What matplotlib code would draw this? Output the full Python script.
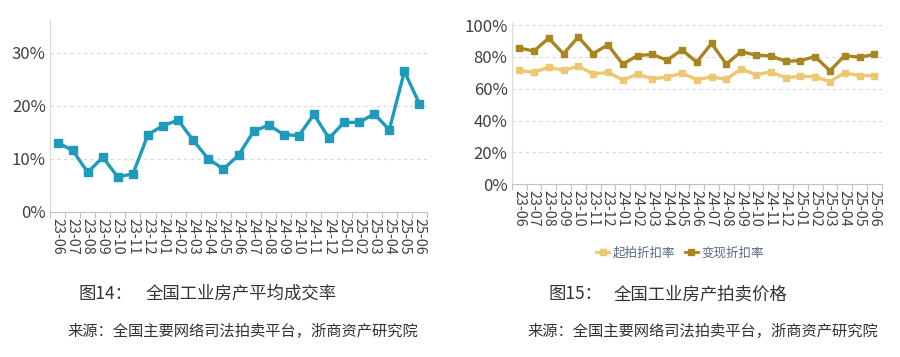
import matplotlib
matplotlib.use("Agg")
import matplotlib.pyplot as plt
from matplotlib.ticker import FuncFormatter, FixedLocator
from matplotlib.lines import Line2D

plt.rcParams['font.family'] = ['Liberation Sans Narrow', 'Noto Sans CJK SC', 'DejaVu Sans']

months = ["23-06", "23-07", "23-08", "23-09", "23-10", "23-11", "23-12",
          "24-01", "24-02", "24-03", "24-04", "24-05", "24-06", "24-07",
          "24-08", "24-09", "24-10", "24-11", "24-12", "25-01", "25-02",
          "25-03", "25-04", "25-05", "25-06"]

deal_rate = [13.1, 11.6, 7.5, 10.3, 6.6, 7.2, 14.6, 16.3, 17.3, 13.5, 10.0, 8.1,
             10.7, 15.2, 16.4, 14.6, 14.4, 18.4, 13.9, 16.9, 16.9, 18.5, 15.5,
             26.5, 20.4]

start_discount = [71.5, 70.3, 73.6, 71.5, 74.2, 69.3, 70.3, 65.6, 69.1, 66.4, 67.2,
                  69.9, 65.8, 67.4, 66.0, 72.4, 68.9, 70.5, 67.0, 67.8, 67.6, 64.5,
                  70.1, 68.2, 68.2]

realize_discount = [85.6, 83.7, 91.8, 81.9, 92.6, 82.1, 87.6, 75.5, 80.8, 81.6, 77.9,
                    84.5, 76.7, 88.5, 75.5, 83.3, 81.2, 80.6, 77.3, 77.7, 80.2, 71.3,
                    80.8, 79.8, 81.6]

series_names = ["起拍折扣率", "变现折扣率"]

teal = "#1E9BBA"
light_gold = "#EDC873"
dark_gold = "#A8851F"
tick_color = "#404040"

fig = plt.figure(figsize=(9, 3.57), dpi=100)
W, H = 900, 357

def add_ax(x0, y0, x1, y1):
    return fig.add_axes([x0 / W, 1 - y1 / H, (x1 - x0) / W, (y1 - y0) / H])

ax1 = add_ax(50, 20, 427, 212)
ax2 = add_ax(511.7, 22.7, 881.7, 184.3)

x = list(range(len(months)))

def style(ax, ymax, yticks):
    ax.set_xlim(-0.5, len(months) - 0.5)
    ax.set_ylim(0, ymax)
    ax.set_yticks(yticks)
    ax.yaxis.set_major_formatter(FuncFormatter(lambda v, p: f"{v:.0f}%"))
    ax.set_xticks(x)
    ax.set_xticklabels(months, rotation=270, fontsize=10.3, color=tick_color)
    ax.xaxis.set_minor_locator(FixedLocator([i - 0.5 for i in range(len(months) + 1)]))
    ax.tick_params(axis='x', which='major', length=0, pad=4)
    ax.tick_params(axis='x', which='minor', length=4, color="#bfbfbf", width=0.8)
    ax.tick_params(axis='y', length=0, labelsize=12, labelcolor=tick_color, pad=3)
    for s in ['top', 'right']:
        ax.spines[s].set_visible(False)
    ax.spines['left'].set_color("#d9d9d9")
    ax.spines['bottom'].set_color("#bfbfbf")
    ax.spines['left'].set_linewidth(0.8)
    ax.spines['bottom'].set_linewidth(0.8)
    for yt in yticks[1:]:
        ax.axhline(yt, color="#d9d9d9", lw=0.8, ls=(0, (3, 3)), zorder=0)

style(ax1, 36.2, [0, 10, 20, 30])
ax1.plot(x, deal_rate, color=teal, lw=2.4, marker='s', ms=5.5, zorder=3)

style(ax2, 100, [0, 20, 40, 60, 80, 100])
ax2.set_ylim(0, 101.5)
ax2.plot(x, start_discount, color=light_gold, lw=2.4, marker='s', ms=5, zorder=3)
ax2.plot(x, realize_discount, color=dark_gold, lw=2.4, marker='s', ms=5, zorder=3)

handles = [Line2D([], [], color=light_gold, lw=2.0, marker='s', ms=5),
           Line2D([], [], color=dark_gold, lw=2.0, marker='s', ms=5)]
fig.legend(handles, series_names, loc='center', bbox_to_anchor=(680 / W, 1 - 253 / H),
           ncol=2, frameon=False, handlelength=1.0, handletextpad=0.3,
           columnspacing=0.8, labelcolor="#5a6a80",
           prop={'family': ['Noto Sans CJK SC'], 'size': 9})

cap_font = ['Noto Sans CJK SC', 'DejaVu Sans']
cap_color = "#333333"
fig.text(79 / W, 1 - 294 / H, "图14：", fontsize=12.5, family=cap_font, va='center', color=cap_color)
fig.text(146 / W, 1 - 294 / H, "全国工业房产平均成交率", fontsize=12.5, family=cap_font, va='center', color=cap_color)
fig.text(549 / W, 1 - 294 / H, "图15：", fontsize=12.5, family=cap_font, va='center', color=cap_color)
fig.text(614 / W, 1 - 294 / H, "全国工业房产拍卖价格", fontsize=12.5, family=cap_font, va='center', color=cap_color)
fig.text(67 / W, 1 - 331 / H, "来源：全国主要网络司法拍卖平台，浙商资产研究院", fontsize=11, family=cap_font, va='center', color=cap_color)
fig.text(527 / W, 1 - 331 / H, "来源：全国主要网络司法拍卖平台，浙商资产研究院", fontsize=11, family=cap_font, va='center', color=cap_color)

fig.savefig("out.png", dpi=100)
